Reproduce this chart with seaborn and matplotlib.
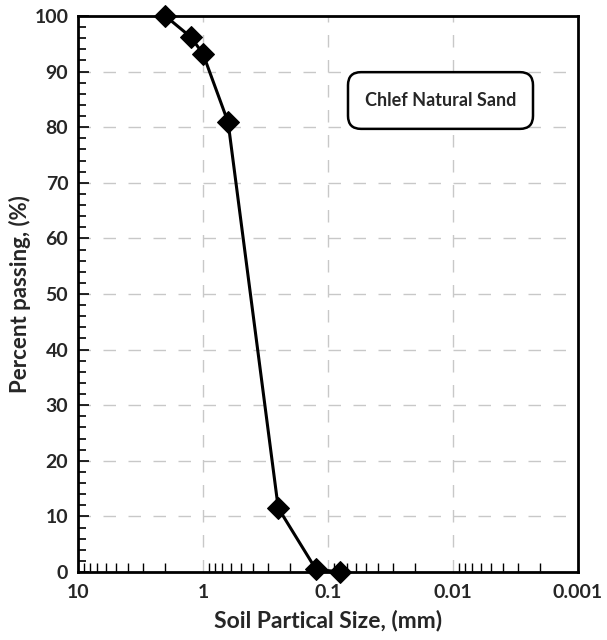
import numpy as np
import pandas as pd
import matplotlib
matplotlib.use("Agg")
import matplotlib.pyplot as plt
from matplotlib.patches import FancyBboxPatch
from matplotlib.ticker import FixedLocator, FixedFormatter, LogLocator, MultipleLocator, NullFormatter
import seaborn as sns

# Sieve analysis of Chlef natural sand
sieve_mm = [2.0, 1.25, 1.0, 0.63, 0.25, 0.125, 0.08]
passing_pct = [100.0, 96.2, 93.2, 80.9, 11.5, 0.5, 0.0]

x_ticks = [10, 1, 0.1, 0.01, 0.001]
x_tick_labels = ["10", "1", "0.1", "0.01", "0.001"]
y_ticks = list(range(0, 101, 10))

sns.set_style("white")
plt.rcParams["font.family"] = ["Lato", "DejaVu Sans"]
plt.rcParams["font.weight"] = "bold"

df = pd.DataFrame({"size": sieve_mm, "passing": passing_pct})

fig = plt.figure(figsize=(6.07, 6.4), dpi=100)
ax = fig.add_axes([78 / 607, 1 - 572 / 640, 500 / 607, 556 / 640])

sns.lineplot(data=df, x="size", y="passing", sort=False, ax=ax,
             color="black", linewidth=2.2, marker="D", markersize=11,
             markeredgecolor="black", markerfacecolor="black",
             clip_on=False, zorder=10)

ax.set_xscale("log")
ax.set_xlim(10, 0.001)
ax.set_ylim(0, 100)

ax.xaxis.set_major_locator(FixedLocator(x_ticks))
ax.xaxis.set_major_formatter(FixedFormatter(x_tick_labels))
ax.xaxis.set_minor_locator(LogLocator(base=10, subs=np.arange(2, 10)))
ax.xaxis.set_minor_formatter(NullFormatter())
ax.yaxis.set_major_locator(FixedLocator(y_ticks))
ax.yaxis.set_minor_locator(MultipleLocator(2))

ax.tick_params(axis="x", which="major", direction="in", length=0, pad=9,
               labelsize=14)
ax.tick_params(axis="x", which="minor", direction="in", length=6.5,
               width=1, color="black", bottom=True)
ax.tick_params(axis="y", which="major", direction="in", length=8,
               width=1.2, color="black", left=True, pad=7, labelsize=14)
ax.tick_params(axis="y", which="minor", direction="in", length=5.5,
               width=1.2, color="black", left=True)

for lab in ax.get_xticklabels() + ax.get_yticklabels():
    lab.set_fontweight("bold")

ax.grid(True, which="major", axis="both", color="#c8c8c8",
        linestyle=(0, (9, 9)), linewidth=1)
ax.set_axisbelow(True)

for s in ax.spines.values():
    s.set_color("black")
    s.set_linewidth(2)

ax.set_xlabel("Soil Partical Size, (mm)", fontsize=16.5, fontweight="bold",
              labelpad=6)
ax.set_ylabel("Percent passing, (%)", fontsize=16, fontweight="bold",
              labelpad=2)

# Rounded label box for the sample name
box = FancyBboxPatch((0.54, 0.797), 0.37, 0.102, transform=ax.transAxes,
                     boxstyle="round,pad=0,rounding_size=0.026",
                     mutation_aspect=0.9, facecolor="white",
                     edgecolor="black", linewidth=1.8, zorder=5)
ax.add_patch(box)
ax.text(0.725, 0.848, "Chlef Natural Sand", transform=ax.transAxes,
        ha="center", va="center", fontsize=13, fontweight="bold", zorder=6)

fig.savefig("out.png", dpi=100)
